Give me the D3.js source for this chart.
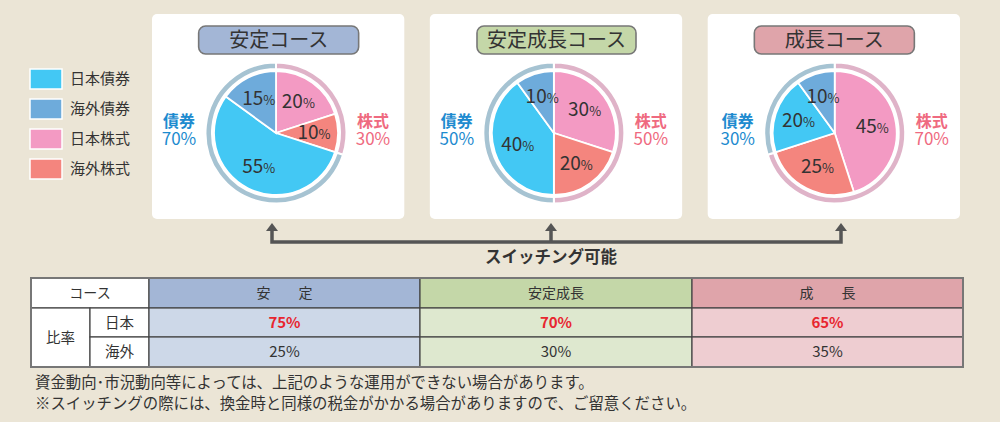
<!DOCTYPE html>
<html>
<head>
<meta charset="utf-8">
<script src="https://cdn.jsdelivr.net/npm/d3@7"></script>
<style>
  body { margin: 0; background: #ebe5d6; }
  svg { display: block; font-family: "Noto Sans CJK JP", "Noto Sans", sans-serif; }
</style>
</head>
<body>
<svg id="chart" width="1000" height="422"></svg>
<script>
// data
var courses = ["安定コース", "安定成長コース", "成長コース"];
var sliceNames = ["日本株式", "海外株式", "日本債券", "海外債券"];
var allocations = [
  [20, 10, 55, 15],
  [30, 20, 40, 10],
  [45, 25, 20, 10]
];
var ringNames = ["株式", "債券"];
var ringTotals = [
  [30, 70],
  [50, 50],
  [70, 30]
];
var legendNames = ["日本債券", "海外債券", "日本株式", "海外株式"];
var tableHeads = ["安　　定", "安定成長", "成　　長"];
var rowNames = ["日本", "海外"];
var domesticRatio = [75, 70, 65];
var foreignRatio = [25, 30, 35];
var notes = [
  "資金動向･市況動向等によっては、上記のような運用ができない場合があります。",
  "※スイッチングの際には、換金時と同様の税金がかかる場合がありますので、ご留意ください。"
];

var sliceColor = d3.scaleOrdinal()
  .domain(["日本債券", "海外債券", "日本株式", "海外株式"])
  .range(["#43c8f4", "#6eabdb", "#f39ac3", "#f4857e"]);
var ringColor = d3.scaleOrdinal().domain(ringNames).range(["#dfb3c8", "#a6c3d2"]);
var ringText = d3.scaleOrdinal().domain(ringNames).range(["#ef6a80", "#1d8bcf"]);
var titleFill = ["#a3b6d6", "#c4d7a8", "#dfa4aa"];
var headFill = ["#a3b6d6", "#c4d7a8", "#dfa4aa"];
var cellFill = ["#cdd8e8", "#dee8cf", "#eecdd1"];

var svg = d3.select("#chart");

// legend
var legend = svg.append("g").attr("transform", "translate(30,69)");
var lrow = legend.selectAll("g").data(legendNames).enter().append("g")
  .attr("transform", function(d, i) { return "translate(0," + i * 30 + ")"; });
lrow.append("rect")
  .attr("width", 32).attr("height", 20)
  .attr("fill", function(d) { return sliceColor(d); })
  .attr("stroke", "#fff").attr("stroke-width", 1.5);
lrow.append("text")
  .attr("x", 40).attr("y", 10).attr("dy", "0.36em")
  .attr("font-size", 15).attr("fill", "#333")
  .text(function(d) { return d; });

// panels
var panelX = d3.scaleBand().domain(courses).range([152, 960]).paddingInner(0.092);
var pie = d3.pie().sort(null).value(function(d) { return d.v; });
var arcPie = d3.arc().innerRadius(0).outerRadius(62);
var arcRing = d3.arc().innerRadius(64).outerRadius(70.5);
var labelArc = d3.arc().innerRadius(38).outerRadius(38);

courses.forEach(function(c, ci) {
  var px = panelX(c), bw = panelX.bandwidth();
  var g = svg.append("g").attr("transform", "translate(" + px + ",14)");
  g.append("rect").attr("width", bw).attr("height", 205).attr("rx", 5).attr("fill", "#fff");

  // title pill
  var tw = [160, 159, 160][ci];
  g.append("rect")
    .attr("x", bw / 2 - tw / 2 + 0.5).attr("y", 12).attr("width", tw).attr("height", 28).attr("rx", 7)
    .attr("fill", titleFill[ci]).attr("stroke", "#777").attr("stroke-width", 1.6);
  g.append("text")
    .attr("x", bw / 2 + 0.5).attr("y", 26).attr("dy", "0.36em").attr("text-anchor", "middle")
    .attr("font-size", 20).attr("fill", "#333").text(c);

  var cx = 124 + (ci === 2 ? 3 : 0), cy = 119;
  var pg = g.append("g").attr("transform", "translate(" + cx + "," + cy + ")");

  var ringData = pie(ringTotals[ci].map(function(v, i) { return { name: ringNames[i], v: v }; }));
  pg.selectAll(".ring").data(ringData).enter().append("path")
    .attr("d", arcRing)
    .attr("fill", function(d) { return ringColor(d.data.name); })
    .attr("stroke", "#fff").attr("stroke-width", 2);

  var sliceData = pie(allocations[ci].map(function(v, i) { return { name: sliceNames[i], v: v }; }));
  pg.selectAll(".slice").data(sliceData).enter().append("path")
    .attr("d", arcPie)
    .attr("fill", function(d) { return sliceColor(d.data.name); })
    .attr("stroke", "#fff").attr("stroke-width", 1.8);

  var lab = pg.selectAll(".lab").data(sliceData).enter().append("text")
    .attr("transform", function(d) { return "translate(" + labelArc.centroid(d) + ")"; })
    .attr("text-anchor", "middle").attr("dy", "0.36em")
    .attr("fill", "#333");
  lab.append("tspan").attr("font-size", 19).text(function(d) { return d.data.v; });
  lab.append("tspan").attr("font-size", 13).text("%");

  // side totals (one text, two lines)
  [["債券", ringTotals[ci][1], -97], ["株式", ringTotals[ci][0], 97]].forEach(function(s) {
    var t = pg.append("text").attr("text-anchor", "middle").attr("fill", ringText(s[0]));
    t.append("tspan").attr("x", s[2]).attr("y", -6.5)
      .attr("font-size", 16).attr("font-weight", "bold").text(s[0]);
    t.append("tspan").attr("x", s[2]).attr("y", 11.5)
      .attr("font-size", 17).text(s[1] + "%");
  });
});

// switching arrows
var arrowX = [272, 551, 841];
var ag = svg.append("g").attr("stroke", "#555").attr("fill", "none");
ag.append("path")
  .attr("d", "M" + arrowX[0] + ",229 V242 H" + arrowX[2] + " V229 M" + arrowX[1] + ",229 V242")
  .attr("stroke-width", 3.5);
arrowX.forEach(function(x) {
  svg.append("path").attr("d", "M" + (x - 6) + ",231 L" + x + ",223 L" + (x + 6) + ",231 Z").attr("fill", "#555");
});
svg.append("text")
  .attr("x", arrowX[1]).attr("y", 257).attr("dy", "0.36em").attr("text-anchor", "middle")
  .attr("font-size", 16.5).attr("font-weight", "bold").attr("fill", "#333").text("スイッチング可能");

// table
var colX = [31, 90, 149, 420, 692, 963];
var rowY = [278, 308, 337, 367];
var tg = svg.append("g");
function cell(x0, x1, y0, y1, fill) {
  tg.append("rect").attr("x", x0).attr("y", y0).attr("width", x1 - x0).attr("height", y1 - y0)
    .attr("fill", fill).attr("stroke", "#444").attr("stroke-width", 1.2);
}
function ctext(x, y, txt, opts) {
  opts = opts || {};
  tg.append("text").attr("x", x).attr("y", y).attr("dy", "0.36em").attr("text-anchor", "middle")
    .attr("font-size", opts.size || 14).attr("font-weight", opts.bold ? "bold" : "normal")
    .attr("fill", opts.color || "#333").text(txt);
}
cell(colX[0], colX[2], rowY[0], rowY[1], "#fff");
ctext((colX[0] + colX[2]) / 2, (rowY[0] + rowY[1]) / 2, "コース");
cell(colX[0], colX[1], rowY[1], rowY[3], "#fff");
ctext((colX[0] + colX[1]) / 2, (rowY[1] + rowY[3]) / 2, "比率", { size: 14.5 });
rowNames.forEach(function(r, i) {
  cell(colX[1], colX[2], rowY[i + 1], rowY[i + 2], "#fff");
  ctext((colX[1] + colX[2]) / 2, (rowY[i + 1] + rowY[i + 2]) / 2, r, { size: 14.5 });
});
tableHeads.forEach(function(h, i) {
  var x0 = colX[i + 2], x1 = colX[i + 3], mx = (x0 + x1) / 2;
  cell(x0, x1, rowY[0], rowY[1], headFill[i]);
  ctext(mx, (rowY[0] + rowY[1]) / 2, h);
  cell(x0, x1, rowY[1], rowY[2], cellFill[i]);
  ctext(mx, (rowY[1] + rowY[2]) / 2, domesticRatio[i] + "%", { bold: true, color: "#e8262f", size: 15 });
  cell(x0, x1, rowY[2], rowY[3], cellFill[i]);
  ctext(mx, (rowY[2] + rowY[3]) / 2, foreignRatio[i] + "%", { size: 15 });
});
tg.append("rect").attr("x", colX[0]).attr("y", rowY[0])
  .attr("width", colX[5] - colX[0]).attr("height", rowY[3] - rowY[0])
  .attr("fill", "none").attr("stroke", "#777").attr("stroke-width", 2);

// notes
svg.selectAll(".note").data(notes).enter().append("text")
  .attr("x", 35).attr("y", function(d, i) { return 382 + i * 21; }).attr("dy", "0.36em")
  .attr("font-size", 15.4).attr("fill", "#333")
  .text(function(d) { return d; });
</script>
</body>
</html>
